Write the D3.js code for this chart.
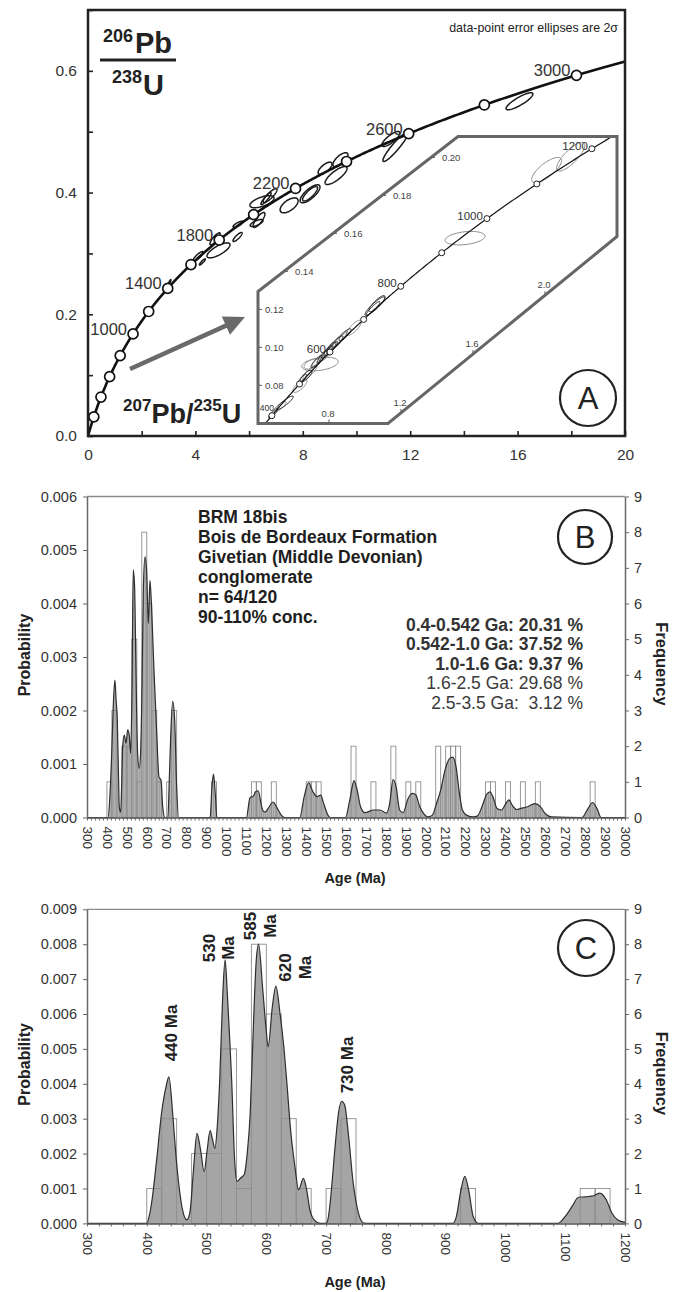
<!DOCTYPE html>
<html>
<head>
<meta charset="utf-8">
<title>BRM 18bis detrital zircon U-Pb</title>
<script src="https://cdn.jsdelivr.net/npm/d3@7/dist/d3.min.js"></script>
<style>
  html, body { margin: 0; padding: 0; background: #fff; }
  svg { display: block; }
  text { font-family: "Liberation Sans", Arial, Helvetica, sans-serif; }
</style>
</head>
<body>
<svg id="fig" width="680" height="1292" viewBox="0 0 680 1292"></svg>
<script>
// ---------- decay constants (per Ma) ----------
const LAMBDA_238 = 1.55125e-4;
const LAMBDA_235 = 9.8485e-4;

// ---------- Panel A: concordia ----------
const concordiaMarkerAges = [200, 400, 600, 800, 1000, 1200, 1400, 1600, 1800, 2000, 2200, 2400, 2600, 2800, 3000];
const concordiaLabelAges = [1000, 1400, 1800, 2200, 2600, 3000];
const axisTicksAx = [0, 2, 4, 6, 8, 10, 12, 14, 16, 18, 20];
const axisTicksAy = [0, 0.1, 0.2, 0.3, 0.4, 0.5, 0.6, 0.7];

// analyses: [207Pb/235U, 206Pb/238U, 2s(207/235), 2s(206/238), rho]
const analysesMain = [
  [16.07, 0.550, 0.50, 0.0140, 0.85],
  [11.45, 0.475, 0.466, 0.0239, 0.93],
  [11.28, 0.488, 0.335, 0.0123, 0.80],
  [9.40, 0.454, 0.28, 0.0115, 0.70],
  [9.24, 0.428, 0.41, 0.0148, 0.80],
  [8.83, 0.440, 0.26, 0.0100, 0.70],
  [8.27, 0.398, 0.37, 0.0148, 0.75],
  [8.27, 0.398, 0.28, 0.0120, 0.80],
  [7.49, 0.379, 0.335, 0.0123, 0.60],
  [6.48, 0.385, 0.45, 0.0099, 0.60],
  [6.78, 0.395, 0.26, 0.0115, 0.85],
  [6.63, 0.390, 0.19, 0.0099, 0.90],
  [6.37, 0.355, 0.22, 0.0123, 0.80],
  [5.59, 0.348, 0.19, 0.0050, 0.80],
  [4.86, 0.305, 0.43, 0.0123, 0.75],
  [4.73, 0.324, 0.19, 0.0099, 0.85],
  [5.57, 0.327, 0.17, 0.0074, 0.85],
  [6.28, 0.350, 0.24, 0.0058, 0.70],
  [4.26, 0.286, 0.11, 0.0050, 0.90],
  [4.10, 0.295, 0.19, 0.0080, 0.85],
  [3.03, 0.252, 0.06, 0.0050, 0.90]
];

// inset (younger grains, enlarged)
const insetMarkerAges = [400, 500, 600, 700, 800, 900, 1000, 1100, 1200];
const insetLabelAges = [400, 600, 800, 1000, 1200];
const insetTicksY = [0.08, 0.10, 0.12, 0.14, 0.16, 0.18, 0.20];
const insetTicksX = [0.8, 1.2, 1.6, 2.0];
const insetAnalysesDark = [
  [1.0556, 0.1217, 0.0556, 0.0049, 0.90],
  [1.0667, 0.1230, 0.0444, 0.00425, 0.85],
  [1.0450, 0.1205, 0.0380, 0.0036, 0.92],
  [0.8333, 0.1018, 0.0444, 0.00425, 0.90],
  [0.8056, 0.0991, 0.0333, 0.0037, 0.85],
  [0.8889, 0.1066, 0.0333, 0.0032, 0.85],
  [0.8200, 0.1000, 0.0280, 0.0030, 0.88],
  [0.7900, 0.0975, 0.0300, 0.0034, 0.90],
  [0.7611, 0.0949, 0.0278, 0.0032, 0.90],
  [0.7300, 0.0925, 0.0300, 0.0032, 0.88],
  [0.6722, 0.0848, 0.0333, 0.0032, 0.80],
  [0.6500, 0.0830, 0.0250, 0.0028, 0.85],
  [0.5556, 0.0708, 0.0461, 0.00356, 0.90],
  [0.4889, 0.0651, 0.0250, 0.0025, 0.85]
];
const insetAnalysesLight = [
  [2.009, 0.1934, 0.0833, 0.00664, 0.75],
  [2.143, 0.2004, 0.0789, 0.00754, 0.80],
  [1.5556, 0.1575, 0.111, 0.00356, 0.30],
  [0.9389, 0.1103, 0.0417, 0.0040, 0.80],
  [0.8611, 0.1044, 0.0389, 0.00425, 0.90],
  [0.7833, 0.0965, 0.0389, 0.0037, 0.80],
  [0.7389, 0.0927, 0.0333, 0.0032, 0.85],
  [0.8500, 0.1028, 0.0556, 0.0053, 0.95],
  [0.7500, 0.0912, 0.1017, 0.00356, 0.35],
  [0.7056, 0.0912, 0.0444, 0.00266, 0.50],
  [0.6944, 0.0869, 0.0389, 0.0037, 0.85],
  [0.6389, 0.0797, 0.0389, 0.00345, 0.75],
  [0.5278, 0.0688, 0.0333, 0.00266, 0.80]
];

// ---------- Panels B and C: age spectra ----------
// histogram, 25 Ma bins: bin start age and number of grains
const binStartAges = [400, 425, 475, 500, 525, 550, 575, 600, 625, 650, 700, 725, 925, 1125, 1150, 1225,
  1400, 1425, 1450, 1625, 1725, 1825, 1900, 1950, 2050, 2100, 2125, 2150, 2300, 2325, 2400, 2475, 2550, 2825];
const binCounts = [1, 3, 2, 2, 5, 1, 8, 6, 3, 1, 1, 3, 1, 1, 1, 1,
  1, 1, 1, 2, 1, 2, 1, 1, 2, 2, 2, 2, 1, 1, 1, 1, 1, 1];
const BIN_WIDTH = 25;

// probability density, whole range (age Ma, probability)
const densityFull = [
  [300,0],[405,0],[415,0.0004],[424,0.0012],[432,0.0021],[440,0.00257],[446,0.0022],[452,0.00182],[458,0.0008],
  [462,0.0002],[469,0.0001],[474,0.0006],[479,0.00132],[487,0.00154],[496,0.00139],[504,0.00164],[512,0.00154],
  [519,0.0012],[526,0.00244],[532,0.00463],[539,0.0043],[545,0.00294],[554,0.0012],[562,0.00092],[569,0.0012],
  [576,0.00244],[583,0.0043],[591,0.00487],[599,0.00463],[608,0.00363],[616,0.00443],[624,0.00394],[636,0.00276],
  [650,0.00157],[661,0.00076],[671,0.0007],[680,0.0002],[691,0],[706,0],[713,0.0007],[720,0.00151],[730,0.00217],
  [740,0.00182],[750,0.00057],[760,0],[918,0],[927,0.00057],[935,0.00081],[944,0.00043],[952,0],[1100,0],
  [1118,0.00037],[1135,0.0004],[1146,0.00048],[1159,0.0005],[1173,0.00027],[1181,0.00014],[1193,0.0001],
  [1209,0.00017],[1234,0.00029],[1251,0.0002],[1276,0.00004],[1293,0],[1368,0],[1390,0.00039],[1412,0.00065],
  [1434,0.00048],[1455,0.00039],[1473,0.00042],[1488,0.00026],[1510,0.00004],[1521,0],[1597,0],[1619,0.00033],
  [1640,0.00069],[1656,0.00051],[1673,0.0002],[1695,0.00009],[1738,0.00014],[1771,0.00014],[1803,0.00008],
  [1819,0.00026],[1836,0.00071],[1851,0.00058],[1869,0.00014],[1886,0.00009],[1912,0.00036],[1934,0.00045],
  [1951,0.00042],[1967,0.00023],[1988,0.00008],[2010,0.00001],[2032,0.00004],[2054,0.00026],[2075,0.00051],
  [2097,0.00089],[2119,0.0011],[2136,0.00113],[2152,0.00095],[2169,0.00045],[2184,0.00014],[2206,0.00004],
  [2239,0.00001],[2260,0.00003],[2282,0.0002],[2304,0.00042],[2321,0.00048],[2337,0.00039],[2358,0.00017],
  [2380,0.00014],[2402,0.00026],[2417,0.00033],[2434,0.00023],[2456,0.00015],[2478,0.00017],[2511,0.0002],
  [2548,0.00026],[2576,0.0002],[2598,0.00008],[2630,0.00001],[2783,0],[2815,0.00017],[2837,0.00028],
  [2859,0.00017],[2880,0],[3000,0]
];

// probability density, 300-1200 Ma
const densityYoung = [
  [300,0],[400,0],[404,0.0002],[409,0.0007],[417,0.0019],[425,0.0032],[432,0.0039],[437,0.0042],[444,0.003],
  [449,0.0019],[453,0.0012],[461,0.0003],[467,0.0001],[472,0.0003],[478,0.0015],[484,0.00258],[490,0.0021],
  [496,0.00148],[501,0.0021],[506,0.00266],[510,0.0024],[514,0.00215],[518,0.0028],[522,0.0041],[527,0.0065],
  [531,0.00755],[535,0.0065],[539,0.0052],[542,0.0041],[547,0.0018],[551,0.0012],[557,0.0013],[563,0.0014],
  [568,0.002],[573,0.00315],[578,0.0055],[583,0.0075],[587,0.008],[594,0.0067],[600,0.0055],[603,0.00506],
  [610,0.0062],[616,0.0068],[623,0.006],[629,0.0051],[634,0.0041],[641,0.0026],[648,0.0016],[654,0.00096],
  [662,0.00129],[667,0.001],[673,0.00038],[680,0.0001],[690,0],[700,0],[704,0.0002],[708,0.0008],[715,0.0022],
  [721,0.0032],[726,0.0035],[731,0.0034],[737,0.0026],[745,0.0012],[754,0.0003],[762,0.00002],[770,0],
  [912,0],[918,0.0002],[925,0.0009],[932,0.00135],[939,0.0009],[946,0.0002],[955,0],[1088,0],[1100,0.0002],
  [1112,0.0005],[1122,0.00075],[1133,0.00076],[1145,0.00078],[1158,0.00087],[1168,0.0007],[1178,0.0003],
  [1188,0.0001],[1200,0.00003]
];

const sampleInfo = ["BRM 18bis", "Bois de Bordeaux Formation", "Givetian (Middle Devonian)", "conglomerate", "n= 64/120", "90-110% conc."];
const ageGroups = ["0.4-0.542 Ga: 20.31 %", "0.542-1.0 Ga: 37.52 %", "1.0-1.6 Ga: 9.37 %", "1.6-2.5 Ga: 29.68 %", "2.5-3.5 Ga:  3.12 %"];
const peakLabels = [["440 Ma"], ["530", "Ma"], ["585", "Ma"], ["620", "Ma"], ["730 Ma"]];

// ======================================================================
const svg = d3.select("#fig");
const defs = svg.append("defs");

const r206 = t => Math.exp(LAMBDA_238 * t) - 1;
const r207 = t => Math.exp(LAMBDA_235 * t) - 1;

function ellipsePath(e, xs, ys) {
  const [cx, cy, sx, sy, rho] = e;
  const k = Math.sqrt(1 - rho * rho);
  const pts = d3.range(72).map(i => {
    const t = i / 72 * 2 * Math.PI;
    return [xs(cx + sx * Math.cos(t)), ys(cy + sy * (rho * Math.cos(t) + k * Math.sin(t)))];
  });
  return d3.line().curve(d3.curveLinearClosed)(pts);
}

// ---------------- Panel A ----------------
const A = { left: 88, right: 625, top: 10, bottom: 436 };
const xA = d3.scaleLinear().domain([0, 20]).range([A.left, A.right]);
const yA = d3.scaleLinear().domain([0, 0.7]).range([A.bottom, A.top]);
const gA = svg.append("g");

defs.append("clipPath").attr("id", "clipA").append("rect")
  .attr("x", A.left).attr("y", A.top).attr("width", A.right - A.left).attr("height", A.bottom - A.top);

// axes (ticks point inward)
const axAy = d3.axisLeft(yA).tickValues(axisTicksAy).tickSizeInner(-5).tickSizeOuter(0).tickPadding(11)
  .tickFormat(d => (Math.round(d * 10) % 2 === 0 && d < 0.65) ? d3.format(".1f")(d) : "");
const axAx = d3.axisBottom(xA).tickValues(axisTicksAx).tickSizeInner(-5).tickSizeOuter(0).tickPadding(13)
  .tickFormat(d => d % 4 === 0 ? d : "");
gA.append("g").attr("transform", `translate(${A.left},0)`).call(axAy);
gA.append("g").attr("transform", `translate(0,${A.bottom})`).call(axAx);
gA.selectAll(".tick line").attr("stroke", "#222").attr("stroke-width", 1.6);
gA.selectAll(".domain").remove();
gA.selectAll(".tick text").attr("font-size", 15.5).attr("fill", "#333");

// error ellipses
const gEll = gA.append("g").attr("clip-path", "url(#clipA)");
gEll.selectAll("path").data(analysesMain).join("path")
  .attr("d", d => ellipsePath(d, xA, yA))
  .attr("fill", "none").attr("stroke", "#1a1a1a").attr("stroke-width", 1.5);

// concordia curve
const concordiaAges = d3.range(0, 3300, 5);
gA.append("path").datum(concordiaAges).attr("clip-path", "url(#clipA)")
  .attr("d", d3.line().x(t => xA(r207(t))).y(t => yA(r206(t))))
  .attr("fill", "none").attr("stroke", "#111").attr("stroke-width", 2.6);

gA.selectAll("circle.mk").data(concordiaMarkerAges).join("circle").attr("class", "mk")
  .attr("cx", t => xA(r207(t))).attr("cy", t => yA(r206(t))).attr("r", 5)
  .attr("fill", "#fff").attr("stroke", "#111").attr("stroke-width", 1.7);

gA.selectAll("text.agelab").data(concordiaLabelAges).join("text").attr("class", "agelab")
  .attr("x", t => xA(r207(t)) - 6).attr("y", t => yA(r206(t)) + 1)
  .attr("text-anchor", "end").attr("font-size", 16.5).attr("fill", "#333").text(t => t);

// frame
gA.append("rect").attr("x", A.left).attr("y", A.top).attr("width", A.right - A.left).attr("height", A.bottom - A.top)
  .attr("fill", "none").attr("stroke", "#222").attr("stroke-width", 2.5);

// ratio labels
const yLab = gA.append("g").attr("font-weight", "bold").attr("fill", "#222");
yLab.append("text").attr("x", 103).attr("y", 42).attr("font-size", 18).text("206");
yLab.append("text").attr("x", 135).attr("y", 53).attr("font-size", 29).text("Pb");
yLab.append("line").attr("x1", 100).attr("x2", 176).attr("y1", 60).attr("y2", 60).attr("stroke", "#222").attr("stroke-width", 3);
yLab.append("text").attr("x", 112).attr("y", 83).attr("font-size", 18).text("238");
yLab.append("text").attr("x", 143).attr("y", 95).attr("font-size", 29).text("U");

const xLab = gA.append("text").attr("x", 123).attr("y", 423).attr("font-weight", "bold").attr("fill", "#222");
xLab.append("tspan").attr("font-size", 17).attr("dy", -12).text("207");
xLab.append("tspan").attr("font-size", 27).attr("dy", 12).text("Pb/");
xLab.append("tspan").attr("font-size", 17).attr("dy", -12).text("235");
xLab.append("tspan").attr("font-size", 27).attr("dy", 12).text("U");

gA.append("text").attr("x", 618).attr("y", 32).attr("text-anchor", "end").attr("font-size", 12.4).attr("fill", "#222")
  .text("data-point error ellipses are 2\u03c3");

// arrow toward the inset
(function () {
  const p0 = [130, 369], p1 = [245, 317];
  const ang = Math.atan2(p1[1] - p0[1], p1[0] - p0[0]);
  const hl = 21, hw = 10;
  const bx = p1[0] - hl * Math.cos(ang), by = p1[1] - hl * Math.sin(ang);
  gA.append("line").attr("x1", p0[0]).attr("y1", p0[1]).attr("x2", bx + 2 * Math.cos(ang)).attr("y2", by + 2 * Math.sin(ang))
    .attr("stroke", "#6a6a6a").attr("stroke-width", 4.5);
  gA.append("path").attr("d", `M${p1[0]},${p1[1]} L${bx - hw * Math.sin(ang)},${by + hw * Math.cos(ang)} L${bx + hw * Math.sin(ang)},${by - hw * Math.cos(ang)} Z`)
    .attr("fill", "#6a6a6a");
})();

// ---------------- Inset ----------------
const hexagon = [[258, 291.5], [458, 136.5], [617, 136.5], [617, 236.5], [388, 423.5], [258, 423.5]];
const xIn = d3.scaleLinear().domain([0.8, 2.0]).range([329, 545]);
const yIn = d3.scaleLinear().domain([0.08, 0.20]).range([385.3, 157.5]);
const gIn = svg.append("g");
defs.append("clipPath").attr("id", "clipIn").append("polygon").attr("points", hexagon.map(p => p.join(",")).join(" "));
gIn.append("polygon").attr("points", hexagon.map(p => p.join(",")).join(" ")).attr("fill", "#fff");

const gInC = gIn.append("g").attr("clip-path", "url(#clipIn)");
gInC.selectAll("path.lt").data(insetAnalysesLight).join("path").attr("class", "lt")
  .attr("d", d => ellipsePath(d, xIn, yIn)).attr("fill", "none").attr("stroke", "#8a8a8a").attr("stroke-width", 1);
gInC.selectAll("path.dk").data(insetAnalysesDark).join("path").attr("class", "dk")
  .attr("d", d => ellipsePath(d, xIn, yIn)).attr("fill", "none").attr("stroke", "#222").attr("stroke-width", 1);
gInC.append("path").datum(d3.range(300, 1400, 5))
  .attr("d", d3.line().x(t => xIn(r207(t))).y(t => yIn(r206(t))))
  .attr("fill", "none").attr("stroke", "#111").attr("stroke-width", 1.2);
gInC.selectAll("circle").data(insetMarkerAges).join("circle")
  .attr("cx", t => xIn(r207(t))).attr("cy", t => yIn(r206(t))).attr("r", 3)
  .attr("fill", "#fff").attr("stroke", "#222").attr("stroke-width", 1);
gIn.selectAll("text.inlab").data(insetLabelAges).join("text").attr("class", "inlab")
  .attr("x", t => xIn(r207(t)) + (t === 400 ? 2 : -4)).attr("y", t => yIn(r206(t)) + (t === 400 ? -5 : 1))
  .attr("text-anchor", "end").attr("font-size", t => t === 400 ? 8.5 : 11.5).attr("fill", "#333").text(t => t);

// inset ticks along the hexagon edges
const edgeLeftX = py => py >= 291.5 ? 258 : 258 + (291.5 - py) * 200 / 155;
const edgeBottomY = px => px <= 388 ? 423.5 : 423.5 - (px - 388) * 187 / 229;
insetTicksY.forEach(v => {
  const py = yIn(v), ex = edgeLeftX(py);
  gIn.append("line").attr("x1", ex).attr("x2", ex + 4).attr("y1", py).attr("y2", py).attr("stroke", "#555").attr("stroke-width", 1);
  gIn.append("text").attr("x", ex + (py >= 291.5 ? 7 : 11)).attr("y", py + 3.5).attr("font-size", 9.5).attr("fill", "#444")
    .text(d3.format(".2f")(v));
});
insetTicksX.forEach(u => {
  const px = xIn(u), ey = edgeBottomY(px);
  gIn.append("line").attr("x1", px).attr("x2", px).attr("y1", ey).attr("y2", ey - 4).attr("stroke", "#555").attr("stroke-width", 1);
  gIn.append("text").attr("x", px - 1).attr("y", ey - 7).attr("text-anchor", "middle").attr("font-size", 9.5).attr("fill", "#444")
    .text(d3.format(".1f")(u));
});
gIn.append("polygon").attr("points", hexagon.map(p => p.join(",")).join(" "))
  .attr("fill", "none").attr("stroke", "#666").attr("stroke-width", 3).attr("stroke-linejoin", "miter");

// panel letter
function panelLetter(cx, cy, r, letter) {
  svg.append("circle").attr("cx", cx).attr("cy", cy).attr("r", r).attr("fill", "#fff").attr("stroke", "#222").attr("stroke-width", 2.2);
  svg.append("text").attr("x", cx).attr("y", cy + 11).attr("text-anchor", "middle").attr("font-size", 31).attr("fill", "#222").text(letter);
}
panelLetter(588, 398, 28, "A");

// ---------------- Panels B and C ----------------
const bins = binStartAges.map((s, i) => ({ start: s, count: binCounts[i] }));

function spectrum(o) {
  const g = svg.append("g");
  const x = d3.scaleLinear().domain(o.ageDomain).range([87, 625]);
  const y = d3.scaleLinear().domain([0, o.pMax]).range([o.bottom, o.top]);
  const f = d3.scaleLinear().domain([0, 9]).range([o.bottom, o.top]);

  const area = d3.area().x(d => x(d[0])).y0(y(0)).y1(d => y(d[1])).curve(d3.curveMonotoneX);
  const line = d3.line().x(d => x(d[0])).y(d => y(d[1])).curve(d3.curveMonotoneX);

  g.append("path").datum(o.density).attr("d", area).attr("fill", o.fill);
  if (o.stripes) {
    const id = "clip" + o.letter;
    defs.append("clipPath").attr("id", id).append("path").datum(o.density).attr("d", area);
    g.append("g").attr("clip-path", `url(#${id})`).selectAll("line")
      .data(d3.range(o.ageDomain[0], o.ageDomain[1], 10)).join("line")
      .attr("x1", d => x(d)).attr("x2", d => x(d)).attr("y1", o.bottom).attr("y2", o.top)
      .attr("stroke", "#c4c4c4").attr("stroke-width", 0.7);
  }
  const vb = bins.filter(b => b.start < o.ageDomain[1]);
  g.selectAll("rect.bar").data(vb).join("rect").attr("class", "bar")
    .attr("x", d => x(d.start)).attr("width", d => x(d.start + BIN_WIDTH) - x(d.start))
    .attr("y", d => f(d.count)).attr("height", d => f(0) - f(d.count))
    .attr("fill", "none").attr("stroke", "#8e8e8e").attr("stroke-width", 0.9);
  g.append("path").datum(o.density).attr("d", line).attr("fill", "none").attr("stroke", "#2e2e2e").attr("stroke-width", 1.2);

  // frame top
  g.append("line").attr("x1", 87).attr("x2", 625).attr("y1", o.top).attr("y2", o.top).attr("stroke", "#8a8a8a").attr("stroke-width", 1.3);

  const nP = Math.round(o.pMax / 0.001);
  const axL = d3.axisLeft(y).tickValues(d3.range(nP + 1).map(i => i * 0.001)).tickFormat(d3.format(".3f"))
    .tickSize(4).tickPadding(6).tickSizeOuter(0);
  const axR = d3.axisRight(f).tickValues(d3.range(10)).tickSize(4).tickPadding(5).tickSizeOuter(0);
  const axB = d3.axisBottom(x).tickValues(d3.range(o.ageDomain[0], o.ageDomain[1] + 1, 20))
    .tickFormat(d => d % 100 === 0 ? d : "").tickSize(3).tickSizeOuter(0);
  const gl = g.append("g").attr("transform", "translate(87,0)").call(axL);
  const gr = g.append("g").attr("transform", "translate(625,0)").call(axR);
  const gb = g.append("g").attr("transform", `translate(0,${o.bottom})`).call(axB);
  [gl, gr, gb].forEach(a => {
    a.select(".domain").attr("stroke", "#6a6a6a").attr("stroke-width", 1.5);
    a.selectAll(".tick line").attr("stroke", "#666");
    a.selectAll(".tick text").attr("fill", "#333").attr("font-size", 14.5);
  });
  gb.select(".domain").attr("stroke", "#555");
  gb.selectAll(".tick text").attr("font-size", 13.5)
    .attr("transform", "rotate(90)").attr("x", 9).attr("y", 0).attr("dy", "0.35em").attr("text-anchor", "start");

  // axis titles
  const mid = (o.top + o.bottom) / 2;
  g.append("text").attr("transform", `translate(30,${mid - 2}) rotate(-90)`).attr("text-anchor", "middle")
    .attr("font-weight", "bold").attr("font-size", 16).attr("fill", "#222").text("Probability");
  g.append("text").attr("transform", `translate(656,${mid + 7}) rotate(90)`).attr("text-anchor", "middle")
    .attr("font-weight", "bold").attr("font-size", 16.5).attr("fill", "#222").text("Frequency");
  g.append("text").attr("x", 355).attr("y", o.ageTitleY).attr("text-anchor", "middle")
    .attr("font-weight", "bold").attr("font-size", 14.5).attr("fill", "#222").text("Age (Ma)");
  return { g, x, y };
}

const B = spectrum({ letter: "B", ageDomain: [300, 3000], pMax: 0.006, top: 496.5, bottom: 817.5,
  density: densityFull, fill: "#9c9c9c", stripes: true, ageTitleY: 883 });
const C = spectrum({ letter: "C", ageDomain: [300, 1200], pMax: 0.009, top: 909.3, bottom: 1223.4,
  density: densityYoung, fill: "#a5a5a5", stripes: false, ageTitleY: 1287 });

// sample description
const info = B.g.append("g").attr("font-weight", "bold").attr("font-size", 17.5).attr("fill", "#1e1e1e");
sampleInfo.forEach((s, i) => info.append("text").attr("x", 198).attr("y", 523 + i * 19.9).text(s));
ageGroups.forEach((s, i) => B.g.append("text").attr("x", 583).attr("y", 631 + i * 19.4).attr("text-anchor", "end")
  .attr("font-size", 17.5).attr("font-weight", i < 3 ? "bold" : "normal").attr("fill", i < 3 ? "#333" : "#3a3a3a")
  .style("white-space", "pre").text(s));
panelLetter(585, 537, 27, "B");

// peak labels (rotated), column centres and vertical centres
const peakLabelPos = [[171, 1033], [208.5, 948], [250, 926], [285, 967.5], [346.5, 1065]];
peakLabels.forEach((lines, i) => {
  const [cx, cy] = peakLabelPos[i];
  lines.forEach((s, j) => {
    C.g.append("text").attr("transform", `translate(${cx + 6 + j * 19.5},${cy}) rotate(-90)`)
      .attr("text-anchor", "middle").attr("font-weight", "bold").attr("font-size", 17).attr("fill", "#222").text(s);
  });
});
panelLetter(586, 948, 28, "C");
</script>
</body>
</html>
